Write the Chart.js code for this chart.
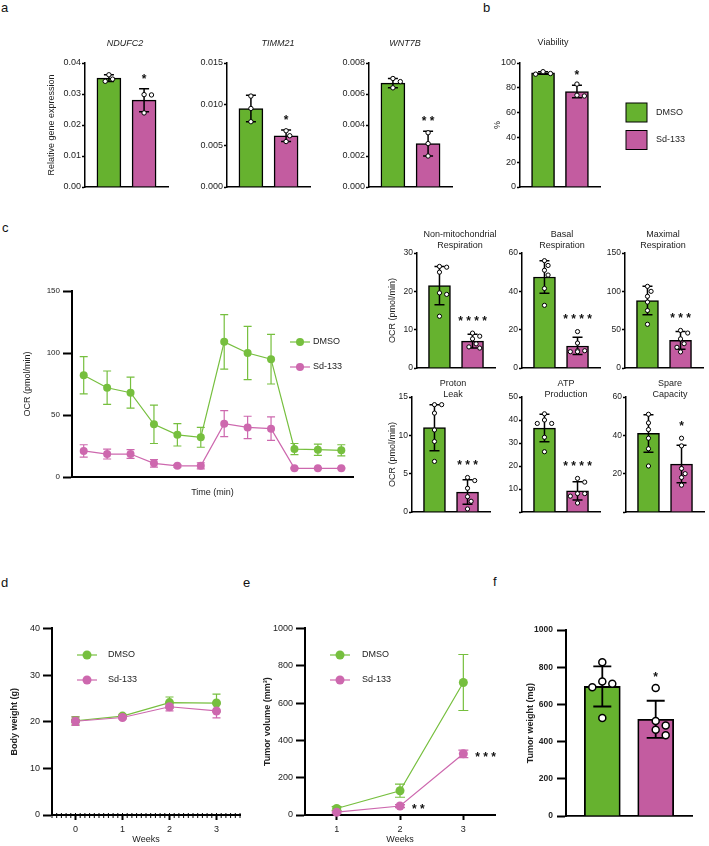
<!DOCTYPE html>
<html>
<head>
<meta charset="utf-8">
<script src="https://cdn.jsdelivr.net/npm/chart.js@4.4.1/dist/chart.umd.min.js"></script>
<style>
html, body { margin: 0; padding: 0; background: #fff; }
#fig { position: relative; width: 709px; height: 846px; overflow: hidden; background: #fff; }
#fig canvas { position: absolute; }
.lab { position: absolute; font: 13px 'Liberation Sans', Arial, sans-serif; line-height: 15px; color: #111; }
</style>
</head>
<body>
<div id="fig">
  <div class="lab" style="left:1px;top:0px">a</div>
  <div class="lab" style="left:483px;top:0px">b</div>
  <div class="lab" style="left:2px;top:220px">c</div>
  <div class="lab" style="left:1px;top:575px">d</div>
  <div class="lab" style="left:243px;top:575px">e</div>
  <div class="lab" style="left:493px;top:574px">f</div>
</div>
<script>
const groups = ['DMSO', 'Sd-133']

// a - relative gene expression
const genes = ['NDUFC2', 'TIMM21', 'WNT7B']
const geneMax = [0.04, 0.015, 0.008]
const geneStep = [0.01, 0.005, 0.002]
const geneMean = [[0.0351, 0.0280], [0.0095, 0.0062], [0.0067, 0.0028]]
const geneSd = [[0.0011, 0.0037], [0.0016, 0.0007], [0.0003, 0.0008]]
const genePts = [
    [[0.0362, 0.0348, 0.0341], [0.0297, 0.0298, 0.0239]],
    [[0.0110, 0.0095, 0.0079], [0.0068, 0.0062, 0.0055]],
    [[0.0070, 0.0068, 0.0064], [0.0035, 0.0028, 0.0020]]
]
const geneStars = ['*', '*', '**']

// b - viability
const viabMean = [92, 77]
const viabSd = [1, 5]
const viabPts = [[91, 93, 91.5], [83, 74, 73.4]]

// c - OCR time course
const ocrTime = [1, 2, 3, 4, 5, 6, 7, 8, 9, 10, 11, 12]
const ocrDmso = [82, 72, 68, 42.5, 34, 32, 109, 100, 95, 22.5, 22, 21.5]
const ocrDmsoSd = [15, 13.5, 12.5, 15.5, 9, 8, 22, 21.5, 20, 4.5, 4.5, 4.5]
const ocrSd133 = [21, 18.5, 18.5, 11, 9, 9, 43, 40, 39, 7, 7, 7]
const ocrSd133Sd = [5, 4, 3.5, 3, 1, 2.5, 10.5, 9, 9.5, 0.5, 0.5, 0.5]

// c - OCR parameters
const ocrBarTitles = [['Non-mitochondrial', 'Respiration'], ['Basal', 'Respiration'], ['Maximal', 'Respiration'],
    ['Proton', 'Leak'], ['ATP', 'Production'], ['Spare', 'Capacity']]
const ocrBarMax = [30, 60, 150, 15, 50, 60]
const ocrBarStep = [10, 20, 50, 5, 10, 20]
const ocrBarMean = [[21.5, 7.0], [47.5, 11.5], [88, 36], [11.0, 2.6], [36.5, 9.2], [41, 25]]
const ocrBarSd = [[5.0, 1.8], [8.5, 4.5], [18.5, 11.5], [3.0, 1.6], [6.0, 4.0], [9.8, 9.8]]
const ocrBarPts = [
    [[26.5, 26.3, 25.0, 19.6, 19.2, 13.5], [9.1, 8.3, 7.6, 6.3, 5.5, 5.2]],
    [[56.0, 53.5, 51.0, 48.5, 41.5, 32.7], [19.0, 13.0, 9.0, 8.5, 8.5, 9.0]],
    [[106.5, 100, 93.5, 86, 75, 57], [49, 45.6, 38, 31.7, 27, 21]],
    [[14.0, 14.0, 12.9, 10.7, 9.2, 6.6], [4.5, 4.1, 3.1, 2.0, 1.4, 0.4]],
    [[42.7, 40.0, 38.5, 38.5, 32.5, 26.2], [14.6, 13.0, 8.0, 8.0, 6.9, 3.9]],
    [[51.0, 46.5, 43.0, 38.5, 33.0, 24.0], [38.5, 34.5, 22.7, 20.0, 18.0, 14.0]]
]
const ocrBarStars = ['****', '****', '***', '***', '****', '*']
const ocrBarNoZero = [false, false, false, false, true, true]

// d - body weight
const weeksD = [0, 1, 2, 3]
const bwDmso = [20.2, 21.2, 24.1, 24.0]
const bwDmsoSd = [0.9, 0.4, 1.2, 1.9]
const bwSd133 = [20.1, 20.9, 23.2, 22.3]
const bwSd133Sd = [0.9, 0.3, 0.9, 1.5]

// e - tumor volume
const weeksE = [1, 2, 3]
const tvDmso = [35, 130, 710]
const tvDmsoSd = [10, 35, 150]
const tvSd133 = [15, 48, 328]
const tvSd133Sd = [5, 8, 20]
const tvStars = ['', '**', '***']

// f - tumor weight
const twMean = [697, 520]
const twSd = [108, 100]
const twPts = [[827, 723, 711, 693, 527], [689, 511, 487, 464, 434]]

const GREEN = '#66b22f', PINK = '#c35ca0'
const LGREEN = '#76bf3e', LPINK = '#cd68ae'
const FONT = "'Liberation Sans', Arial, Helvetica, sans-serif"
Chart.defaults.font.family = FONT
Chart.defaults.color = '#222'

const fig = document.getElementById('fig')

function drawErr(chart, ex) {
    const ctx = chart.ctx, xs = chart.scales.x, ys = chart.scales.y
    ;(ex.err || []).forEach(e => {
        ctx.save()
        ctx.strokeStyle = e.color
        ctx.lineWidth = e.lw
        e.x.forEach((xv, i) => {
            const px = xs.getPixelForValue(xv)
            const top = ys.getPixelForValue(e.mean[i] + e.sd[i])
            const bot = ys.getPixelForValue(Math.max(0, e.mean[i] - e.sd[i]))
            ctx.beginPath()
            ctx.moveTo(px, top); ctx.lineTo(px, bot)
            ctx.moveTo(px - e.cap, top); ctx.lineTo(px + e.cap, top)
            ctx.moveTo(px - e.cap, bot); ctx.lineTo(px + e.cap, bot)
            ctx.stroke()
        })
        ctx.restore()
    })
}

// replicate dots, spread sideways when they would overlap
function drawReps(chart, ex) {
    const ctx = chart.ctx, xs = chart.scales.x, ys = chart.scales.y, R = ex.reps
    const step = R.r + 1.5, minD = 2 * R.r + 1
    R.pts.forEach((vals, gi) => {
        const cx = xs.getPixelForValue(gi)
        const placed = []
        vals.map(v => ys.getPixelForValue(v)).sort((a, b) => a - b).forEach(py => {
            let spot = null
            for (const k of [0, 1, -1, 2, -2, 3, -3]) {
                const px = cx + k * step
                if (placed.every(p => Math.hypot(p[0] - px, p[1] - py) >= minD)) { spot = [px, py]; break }
            }
            placed.push(spot || [cx, py])
        })
        placed.forEach(([px, py]) => {
            ctx.beginPath()
            ctx.arc(px, py, R.r, 0, Math.PI * 2)
            ctx.fillStyle = '#fff'
            ctx.fill()
            ctx.lineWidth = R.lw
            ctx.strokeStyle = '#000'
            ctx.stroke()
        })
    })
}

function drawStars(chart, ex) {
    const ctx = chart.ctx, xs = chart.scales.x, ys = chart.scales.y
    ;(ex.stars || []).forEach(s => {
        if (!s.text) return
        ctx.save()
        ctx.font = `bold ${s.fs}px ${FONT}`
        ctx.fillStyle = '#111'
        const txt = s.text.split('').join(' ')
        const px = xs.getPixelForValue(s.x), py = ys.getPixelForValue(s.y)
        if (s.side) {
            ctx.textAlign = 'left'
            ctx.fillText(txt, px + s.dx, py + 0.57 * s.fs)
        } else {
            ctx.textAlign = 'center'
            ctx.fillText(txt, px, py - s.gap + 0.57 * s.fs)
        }
        ctx.restore()
    })
}

function drawTexts(chart, ex) {
    const ctx = chart.ctx
    ;(ex.texts || []).forEach(s => {
        ctx.save()
        ctx.font = s.f
        ctx.fillStyle = '#222'
        ctx.textAlign = s.a || 'center'
        ctx.textBaseline = 'middle'
        ctx.fillText(s.t, s.x - ex.ox, s.y - ex.oy)
        ctx.restore()
    })
}

function drawLegend(chart, ex) {
    const ctx = chart.ctx, L = ex.legend
    L.items.forEach((it, i) => {
        const y = L.ys[i] - ex.oy
        ctx.save()
        if (L.kind === 'box') {
            ctx.fillStyle = it.color
            ctx.fillRect(L.x - ex.ox, y - L.h / 2, L.w, L.h)
            ctx.strokeStyle = '#000'
            ctx.lineWidth = 1
            ctx.strokeRect(L.x - ex.ox, y - L.h / 2, L.w, L.h)
        } else {
            const cx = L.x - ex.ox
            ctx.strokeStyle = it.color
            ctx.lineWidth = 1.2
            ctx.beginPath()
            ctx.moveTo(cx - L.half, y); ctx.lineTo(cx + L.half, y)
            ctx.stroke()
            ctx.fillStyle = it.color
            ctx.beginPath()
            ctx.arc(cx, y, L.r, 0, Math.PI * 2)
            ctx.fill()
        }
        ctx.fillStyle = '#222'
        ctx.font = L.font
        ctx.textAlign = 'left'
        ctx.textBaseline = 'middle'
        ctx.fillText(it.label, L.tx - ex.ox, y)
        ctx.restore()
    })
}

function drawMinor(chart, ex) {
    const ctx = chart.ctx, xs = chart.scales.x, y0 = chart.chartArea.bottom
    ctx.save()
    ctx.strokeStyle = '#000'
    ctx.lineWidth = 1
    ctx.beginPath()
    for (let k = 0; xs.min + k * ex.minor <= xs.max + 1e-9; k++) {
        const px = xs.getPixelForValue(xs.min + k * ex.minor)
        ctx.moveTo(px, y0 - 2); ctx.lineTo(px, y0 + 3)
    }
    ctx.stroke()
    ctx.restore()
}

Chart.register({
    id: 'extras',
    beforeDatasetsDraw(chart) {
        const ex = chart.canvas.__ex
        if (ex && ex.errBehind) drawErr(chart, ex)
    },
    afterDatasetsDraw(chart) {
        const ex = chart.canvas.__ex
        if (!ex) return
        if (!ex.errBehind) drawErr(chart, ex)
        if (ex.reps) drawReps(chart, ex)
        drawStars(chart, ex)
        drawTexts(chart, ex)
        if (ex.legend) drawLegend(chart, ex)
        if (ex.minor) drawMinor(chart, ex)
    }
})

// canvas placed so that the plot area lands on l,t,r,b of the page
function mount(g) {
    const left = g.l - g.yw, top = g.t - g.padT
    const w = Math.round(g.r + g.padR - left), h = Math.round(g.b + g.xh + g.padB - top)
    const cv = document.createElement('canvas')
    cv.width = w; cv.height = h
    cv.style.left = left + 'px'; cv.style.top = top + 'px'
    cv.style.width = w + 'px'; cv.style.height = h + 'px'
    fig.appendChild(cv)
    return { cv, left, top }
}

function yAxis(o) {
    return {
        type: 'linear', min: 0, max: o.max,
        ticks: { stepSize: o.step, padding: o.pad, color: '#222', font: { size: o.fs, weight: o.bold ? 'bold' : 'normal' }, callback: o.fmt },
        grid: { drawOnChartArea: false, drawTicks: true, tickLength: o.tl, tickColor: '#000', tickWidth: o.lw },
        border: { color: '#000', width: o.lw },
        title: {
            display: !!o.title, text: o.title || '', padding: 0, color: '#222',
            font: { size: 9, weight: (o.bold || o.titleBold) ? 'bold' : 'normal' }
        },
        afterFit: s => { s.width = o.yw }
    }
}

function layoutOpts(g) {
    return { padding: { left: 0, top: g.padT, right: g.padR, bottom: g.padB } }
}

function barPanel(g, d) {
    const m = mount(g)
    m.cv.__ex = {
        ox: m.left, oy: m.top,
        err: [{ x: [0, 1], mean: d.mean, sd: d.sd, color: '#000', lw: d.lw, cap: d.cap }],
        reps: { pts: d.pts, r: d.r, lw: d.plw },
        stars: [{ x: 1, y: Math.max(d.mean[1] + d.sd[1], ...d.pts[1]), text: d.star, gap: d.gap, fs: 12 }],
        texts: d.texts || [],
        legend: d.legend
    }
    new Chart(m.cv, {
        type: 'bar',
        data: {
            datasets: [{
                data: groups.map((name, i) => ({ x: i, y: d.mean[i] })),
                backgroundColor: [GREEN, PINK],
                borderColor: '#000',
                borderWidth: d.lw,
                barThickness: d.bw
            }]
        },
        options: {
            responsive: false, animation: false, events: [],
            layout: layoutOpts(g),
            plugins: { legend: { display: false }, tooltip: { enabled: false } },
            scales: {
                x: {
                    type: 'linear', min: -0.68, max: 1.68, offset: false,
                    ticks: { display: false }, grid: { display: false, offset: false },
                    border: { color: '#000', width: d.lw },
                    afterFit: s => { s.height = g.xh }
                },
                y: yAxis(d.y)
            }
        }
    })
}

function linePanel(g, d) {
    const m = mount(g)
    m.cv.__ex = {
        ox: m.left, oy: m.top, errBehind: true,
        err: d.series.map(s => ({ x: d.xs, mean: s.vals, sd: s.sd, color: s.color, lw: 1.2, cap: d.cap })),
        stars: d.stars || [],
        legend: {
            kind: 'line', x: d.leg.x, tx: d.leg.tx, ys: d.leg.ys, r: d.r, half: 10, font: `9px ${FONT}`,
            items: d.series.map(s => ({ label: s.label, color: s.color }))
        },
        minor: d.minor
    }
    const xt = d.xticks
    new Chart(m.cv, {
        type: 'line',
        data: {
            datasets: d.series.map(s => ({
                data: d.xs.map((x, i) => ({ x, y: s.vals[i] })),
                borderColor: s.color, backgroundColor: s.color,
                pointBackgroundColor: s.color, pointBorderWidth: 0,
                pointRadius: d.r, borderWidth: 1.2, tension: 0, clip: false
            })).reverse()
        },
        options: {
            responsive: false, animation: false, events: [],
            layout: layoutOpts(g),
            plugins: { legend: { display: false }, tooltip: { enabled: false } },
            scales: {
                x: {
                    type: 'linear', min: d.xmin, max: d.xmax,
                    afterBuildTicks: s => { if (xt) s.ticks = xt.map(v => ({ value: v })) },
                    ticks: { display: !!xt, padding: d.xpad || 0, color: '#222', font: { size: 9 }, callback: v => String(v) },
                    grid: { display: !!xt, drawOnChartArea: false, drawTicks: true, tickLength: 5, tickColor: '#000', tickWidth: 2 },
                    border: { color: '#000', width: 2 },
                    title: { display: true, text: d.xTitle, padding: 0, color: '#222', font: { size: 9 } },
                    afterFit: s => { s.height = g.xh }
                },
                y: yAxis(d.y)
            }
        }
    })
}

// ---- a ----
const geneL = [85, 227, 369], geneYw = [39, 30, 30], geneTitleX = [125, 278, 405]
genes.forEach((name, i) => barPanel(
    { l: geneL[i], t: 63, r: geneL[i] + 83, b: 187, yw: geneYw[i], xh: 4, padT: 30, padR: 6, padB: 6 },
    {
        mean: geneMean[i], sd: geneSd[i], pts: genePts[i], star: geneStars[i],
        bw: 24, lw: 1.5, cap: 5, r: 2.2, plw: 1, gap: 13,
        texts: [{ t: name, x: geneTitleX[i], y: 43, f: `italic 9px ${FONT}` }],
        y: {
            max: geneMax[i], step: geneStep[i], fs: 9, tl: 3, pad: 1, lw: 1.5, yw: geneYw[i],
            fmt: v => v.toFixed(i === 0 ? 2 : 3),
            title: i === 0 ? 'Relative gene expression' : ''
        }
    }
))

// ---- b ----
barPanel(
    { l: 520, t: 63, r: 600, b: 187, yw: 28, xh: 4, padT: 30, padR: 105, padB: 6 },
    {
        mean: viabMean, sd: viabSd, pts: viabPts, star: '*',
        bw: 23, lw: 1.5, cap: 5, r: 2.2, plw: 1, gap: 12,
        texts: [{ t: 'Viability', x: 553, y: 43, f: `9px ${FONT}` }],
        legend: {
            kind: 'box', x: 626, w: 21, h: 19, tx: 656, ys: [112.5, 140], font: `9px ${FONT}`,
            items: [{ label: groups[0], color: GREEN }, { label: groups[1], color: PINK }]
        },
        y: { max: 100, step: 20, fs: 9, tl: 3, pad: 1, lw: 1.5, yw: 28, fmt: v => v, title: '%' }
    }
)

// ---- c: time course ----
linePanel(
    { l: 72, t: 291, r: 353, b: 477, yw: 50, xh: 21, padT: 8, padR: 6, padB: 4 },
    {
        xs: ocrTime, xmin: 0.5, xmax: 12.5, xticks: null, xTitle: 'Time (min)', r: 4, cap: 4,
        series: [
            { label: groups[0], vals: ocrDmso, sd: ocrDmsoSd, color: LGREEN },
            { label: groups[1], vals: ocrSd133, sd: ocrSd133Sd, color: LPINK }
        ],
        leg: { x: 300, tx: 313, ys: [342, 367] },
        y: { max: 150, step: 50, fs: 8, tl: 9, pad: 3, lw: 2, yw: 50, fmt: v => v, title: 'OCR (pmol/min)' }
    }
)

// ---- c: parameters ----
const ocrBarL = [417, 522, 625, 412, 522, 626]
const ocrBarYw = [30, 22, 26, 25, 22, 22]
const ocrBarTitleX = [460, 562, 663, 453, 566, 670]
ocrBarTitles.forEach((lines, i) => {
    const row = i < 3 ? 0 : 1
    const t = row ? 397 : 253, b = row ? 512 : 368
    const ly = row ? [384, 395] : [235, 246]
    barPanel(
        { l: ocrBarL[i], t, r: ocrBarL[i] + 78, b, yw: ocrBarYw[i], xh: 4, padT: row ? 20 : 26, padR: 6, padB: 6 },
        {
            mean: ocrBarMean[i], sd: ocrBarSd[i], pts: ocrBarPts[i], star: ocrBarStars[i],
            bw: 22, lw: 1.5, cap: 5, r: 2.1, plw: 1, gap: 15,
            texts: lines.map((s, k) => ({ t: s, x: ocrBarTitleX[i], y: ly[k], f: `9px ${FONT}` })),
            y: {
                max: ocrBarMax[i], step: ocrBarStep[i], fs: 8.5, tl: 3, pad: 1, lw: 1.5, yw: ocrBarYw[i],
                fmt: v => (v === 0 && ocrBarNoZero[i]) ? '' : v,
                title: (i % 3 === 0) ? 'OCR (pmol/min)' : ''
            }
        }
    )
})

// ---- d ----
linePanel(
    { l: 52, t: 628, r: 240, b: 815, yw: 43, xh: 30, padT: 8, padR: 6, padB: 0 },
    {
        xs: weeksD, xmin: -0.5, xmax: 3.5, xticks: weeksD, xTitle: 'Weeks', xpad: 4, r: 4.5, cap: 4, minor: 0.1,
        series: [
            { label: groups[0], vals: bwDmso, sd: bwDmsoSd, color: LGREEN },
            { label: groups[1], vals: bwSd133, sd: bwSd133Sd, color: LPINK }
        ],
        leg: { x: 87, tx: 108, ys: [655, 680] },
        y: { max: 40, step: 10, fs: 9, tl: 9, pad: 3, lw: 2, yw: 43, fmt: v => v, title: 'Body weight (g)', titleBold: true }
    }
)

// ---- e ----
linePanel(
    { l: 305, t: 628, r: 495, b: 815, yw: 43, xh: 30, padT: 8, padR: 6, padB: 0 },
    {
        xs: weeksE, xmin: 0.5, xmax: 3.5, xticks: weeksE, xTitle: 'Weeks', xpad: 4, r: 4.5, cap: 5,
        series: [
            { label: groups[0], vals: tvDmso, sd: tvDmsoSd, color: LGREEN },
            { label: groups[1], vals: tvSd133, sd: tvSd133Sd, color: LPINK }
        ],
        stars: weeksE.map((w, i) => ({ x: w, y: tvSd133[i], text: tvStars[i], side: true, dx: 12, fs: 12 })),
        leg: { x: 340, tx: 362, ys: [655, 680] },
        y: { max: 1000, step: 200, fs: 9, tl: 9, pad: 3, lw: 2, yw: 43, fmt: v => v, title: 'Tumor volume (mm³)', titleBold: true }
    }
)

// ---- f ----
barPanel(
    { l: 566, t: 629, r: 692, b: 816, yw: 41, xh: 4, padT: 8, padR: 6, padB: 6 },
    {
        mean: twMean, sd: twSd, pts: twPts, star: '*',
        bw: 36, lw: 1.8, cap: 9, r: 3.5, plw: 1.5, gap: 14,
        y: { max: 1000, step: 200, fs: 8.5, tl: 9, pad: 4, lw: 2, yw: 41, fmt: v => v, title: 'Tumor weight (mg)', bold: true }
    }
)
</script>
</body>
</html>
